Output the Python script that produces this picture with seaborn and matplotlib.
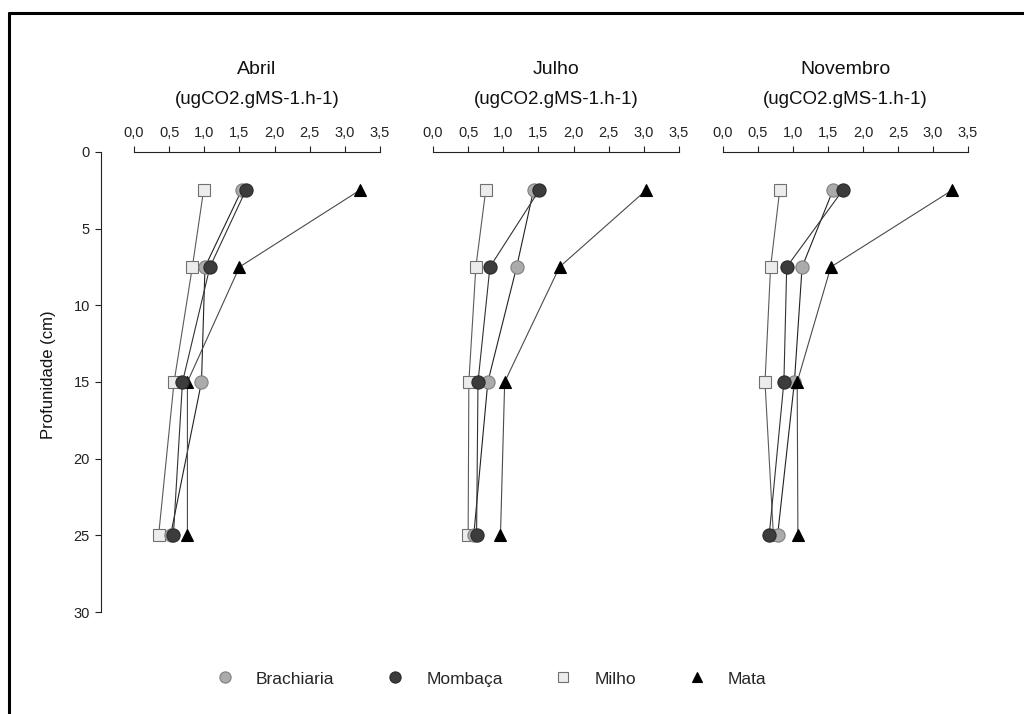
import matplotlib
matplotlib.use('Agg')
import matplotlib.pyplot as plt
from matplotlib.lines import Line2D
import seaborn as sns
import pandas as pd

# depths (cm) and respiration values (ugCO2.gMS-1.h-1)
depths = [2.5, 7.5, 15, 25]
months = ['Abril', 'Julho', 'Novembro']
unit_label = '(ugCO2.gMS-1.h-1)'
x_ticks = [0.0, 0.5, 1.0, 1.5, 2.0, 2.5, 3.0, 3.5]
y_ticks = [0, 5, 10, 15, 20, 25, 30]

brachiaria = {'Abril': [1.53, 1.01, 0.96, 0.52],
              'Julho': [1.43, 1.19, 0.78, 0.58],
              'Novembro': [1.57, 1.13, 1.02, 0.78]}
mombaca = {'Abril': [1.59, 1.08, 0.69, 0.56],
           'Julho': [1.51, 0.81, 0.64, 0.62],
           'Novembro': [1.71, 0.91, 0.87, 0.66]}
milho = {'Abril': [0.99, 0.83, 0.57, 0.35],
         'Julho': [0.75, 0.61, 0.51, 0.50],
         'Novembro': [0.81, 0.68, 0.60, 0.72]}
mata = {'Abril': [3.21, 1.50, 0.76, 0.76],
        'Julho': [3.03, 1.80, 1.02, 0.96],
        'Novembro': [3.27, 1.54, 1.06, 1.07]}

# drawing order: later series sit on top
series = [
    ('Milho', milho, dict(marker='s', markersize=8, markerfacecolor='#ececec',
                          markeredgecolor='#707070', color='#5a5a5a')),
    ('Brachiaria', brachiaria, dict(marker='o', markersize=9.5, markerfacecolor='#ababab',
                                    markeredgecolor='#808080', color='#222222')),
    ('Mata', mata, dict(marker='^', markersize=9, markerfacecolor='#000000',
                        markeredgecolor='#000000', color='#4a4a4a')),
    ('Mombaça', mombaca, dict(marker='o', markersize=9.5, markerfacecolor='#3c3c3c',
                              markeredgecolor='#2a2a2a', color='#333333')),
]
legend_order = ['Brachiaria', 'Mombaça', 'Milho', 'Mata']

sns.set_theme(style='white')
plt.rcParams['font.family'] = ['Liberation Sans', 'DejaVu Sans']

W, H = 1024, 714
fig = plt.figure(figsize=(W / 100, H / 100), dpi=100)

panel_px = [(134, 380), (433, 679), (723, 968)]
top_px, bot_px = 152, 612

for i, (month, (x0, x1)) in enumerate(zip(months, panel_px)):
    ax = fig.add_axes([x0 / W, 1 - bot_px / H, (x1 - x0) / W, (bot_px - top_px) / H])
    ax.patch.set_alpha(0)
    for name, data, style in series:
        df = pd.DataFrame({'valor': data[month], 'prof': depths})
        sns.lineplot(data=df, x='valor', y='prof', orient='y', sort=False,
                     estimator=None, ax=ax, linewidth=0.8, markeredgewidth=0.8,
                     clip_on=False, **style)
    ax.set_xlim(0, 3.5)
    ax.set_ylim(30, 0)
    ax.set_xlabel('')
    ax.set_ylabel('')
    ax.xaxis.tick_top()
    ax.set_xticks(x_ticks)
    ax.set_xticklabels([f'{v:.1f}'.replace('.', ',') for v in x_ticks])
    ax.tick_params(axis='x', direction='out', length=4, width=0.8, pad=4.5,
                   labelsize=10.5, colors='#222222', top=True, bottom=False)
    for s in ['bottom', 'right']:
        ax.spines[s].set_visible(False)
    ax.spines['top'].set_color('#222222')
    ax.spines['top'].set_linewidth(0.8)
    if i == 0:
        ax.spines['left'].set_position(('outward', 33 * 0.72))
        ax.spines['left'].set_color('#222222')
        ax.spines['left'].set_linewidth(0.8)
        ax.set_yticks(y_ticks)
        ax.set_yticklabels([str(v) for v in y_ticks])
        ax.tick_params(axis='y', direction='out', length=4, width=0.8, pad=4,
                       labelsize=10.5, colors='#222222', left=True)
    else:
        ax.spines['left'].set_visible(False)
        ax.set_yticks([])
    cx = (x0 + x1) / 2 / W
    fig.text(cx, 1 - 69 / H, month, ha='center', va='center', fontsize=14, color='#111111')
    fig.text(cx, 1 - 99 / H, unit_label, ha='center', va='center', fontsize=13.5,
             color='#111111')

fig.text(48 / W, 1 - 375 / H, 'Profunidade (cm)', rotation=90, ha='center', va='center',
         fontsize=12, color='#111111')

styles = {name: style for name, _, style in series}
handles = []
for name in legend_order:
    st = styles[name]
    handles.append(Line2D([], [], linestyle='none', marker=st['marker'],
                          markersize=st['markersize'] * 0.85,
                          markerfacecolor=st['markerfacecolor'],
                          markeredgecolor=st['markeredgecolor'], markeredgewidth=0.8))
fig.legend(handles, legend_order, loc='center', bbox_to_anchor=(487 / W, 1 - 679 / H),
           ncol=4, frameon=False, fontsize=12.5, handletextpad=0.78, columnspacing=2.5)

# outer frame (top and left edges)
fig.add_artist(Line2D([9 / W, 1.0], [1 - 13 / H, 1 - 13 / H], color='black', linewidth=2.2))
fig.add_artist(Line2D([9 / W, 9 / W], [0, 1 - 13 / H], color='black', linewidth=2.2))

fig.savefig('out.png', dpi=100, facecolor='white')
